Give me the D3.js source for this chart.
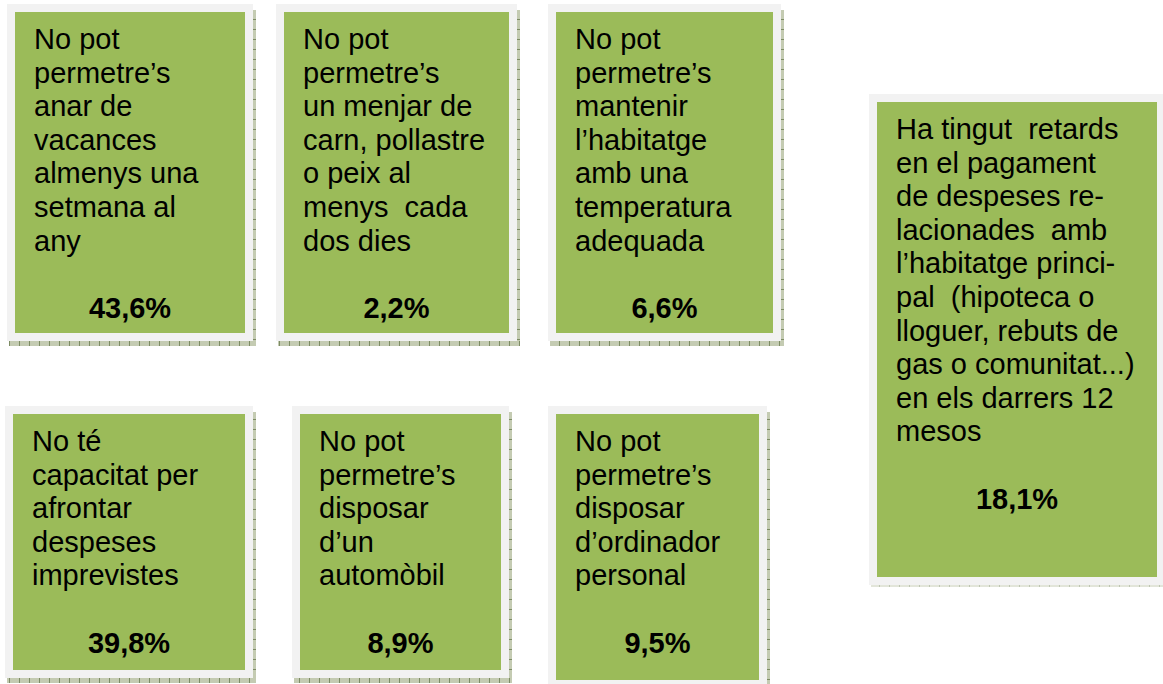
<!DOCTYPE html>
<html>
<head>
<meta charset="utf-8">
<script src="https://cdn.jsdelivr.net/npm/d3@7"></script>
<style>
  body { margin: 0; background: #fff; }
  svg { display: block; }
  text { font-family: "Liberation Sans", Arial, sans-serif; font-size: 29px; fill: #000; white-space: pre; }
</style>
</head>
<body>
<div id="chart"></div>
<script>
// indicator texts, line breaks as in the original
const labels = [
  ["No pot", "permetre\u2019s", "anar de", "vacances", "almenys una", "setmana al", "any"],
  ["No pot", "permetre\u2019s", "un menjar de", "carn, pollastre", "o peix al", "menys  cada", "dos dies"],
  ["No pot", "permetre\u2019s", "mantenir", "l\u2019habitatge", "amb una", "temperatura", "adequada"],
  ["No t\u00e9", "capacitat per", "afrontar", "despeses", "imprevistes"],
  ["No pot", "permetre\u2019s", "disposar", "d\u2019un", "autom\u00f2bil"],
  ["No pot", "permetre\u2019s", "disposar", "d\u2019ordinador", "personal"],
  ["Ha tingut  retards", "en el pagament", "de despeses re-", "lacionades  amb", "l\u2019habitatge princi-", "pal  (hipoteca o", "lloguer, rebuts de", "gas o comunitat...)", "en els darrers 12", "mesos"]
];
const values = [43.6, 2.2, 6.6, 39.8, 8.9, 9.5, 18.1];

// box placement (green area) on the page
const layout = [
  {x: 15,  y: 12,  w: 230, h: 321},
  {x: 284, y: 12,  w: 225, h: 321},
  {x: 556, y: 12,  w: 217, h: 321},
  {x: 13,  y: 414, w: 232, h: 256},
  {x: 300, y: 414, w: 201, h: 256},
  {x: 556, y: 414, w: 203, h: 266},
  {x: 877, y: 102, w: 280, h: 475}
];

const width = 1163, height = 684;
const pad = 8, lineH = 33.6;
const fmt = v => d3.format(".1f")(v).replace(".", ",") + "%";

const data = values.map((v, i) => ({value: v, lines: labels[i], box: layout[i], i}));

const svg = d3.select("#chart").append("svg")
    .attr("width", width)
    .attr("height", height);

// ruler-like texture used for the drop shadow
const defs = svg.append("defs");
const pv = defs.append("pattern").attr("id", "shadowV")
    .attr("patternUnits", "userSpaceOnUse").attr("width", 4).attr("height", 10);
pv.append("rect").attr("width", 4).attr("height", 10).attr("fill", "#c4cbb2");
pv.append("rect").attr("y", 9).attr("width", 4).attr("height", 1).attr("fill", "#7d8c64");
const ph = defs.append("pattern").attr("id", "shadowH")
    .attr("patternUnits", "userSpaceOnUse").attr("width", 10).attr("height", 6);
ph.append("rect").attr("width", 10).attr("height", 6).attr("fill", "#c4cbb2");
ph.append("rect").attr("x", 9).attr("width", 1).attr("height", 6).attr("fill", "#7d8c64");

const g = svg.selectAll("g.box")
  .data(data)
  .join("g")
    .attr("class", "box");

// shadow
g.append("rect")
    .attr("x", d => d.box.x + d.box.w + pad)
    .attr("y", d => d.box.y - pad + 6)
    .attr("width", 3)
    .attr("height", d => d.box.h + 2 * pad - 1)
    .attr("fill", "url(#shadowV)")
    .attr("opacity", d => d.i === 6 ? 0.5 : 1);
g.append("rect")
    .attr("x", d => d.box.x - pad + 2)
    .attr("y", d => d.box.y + d.box.h + pad)
    .attr("width", d => d.box.w + 2 * pad + 1)
    .attr("height", d => d.i === 6 ? 2 : 5)
    .attr("fill", "url(#shadowH)")
    .attr("opacity", d => d.i === 6 ? 0.5 : 1);

// light frame
g.append("rect")
    .attr("x", d => d.box.x - pad)
    .attr("y", d => d.box.y - pad)
    .attr("width", d => d.box.w + 2 * pad)
    .attr("height", d => d.box.h + 2 * pad)
    .attr("fill", "#f2f2f2");

// green panel
g.append("rect")
    .attr("x", d => d.box.x)
    .attr("y", d => d.box.y)
    .attr("width", d => d.box.w)
    .attr("height", d => d.box.h)
    .attr("fill", "#9bbb59");

// label lines
g.each(function(d) {
  const t = d3.select(this).append("text")
      .attr("x", d.box.x + 19)
      .attr("y", d.box.y + 37)
      .attr("xml:space", "preserve");
  t.selectAll("tspan")
    .data(d.lines)
    .join("tspan")
      .attr("x", d.box.x + 19)
      .attr("y", (l, j) => d.box.y + 37 + j * lineH)
      .text(l => l);
});

// percentage
g.append("text")
    .attr("x", d => d.box.x + d.box.w / 2)
    .attr("y", d => d.box.y + 37 + (d.lines.length + 1) * lineH)
    .attr("text-anchor", "middle")
    .attr("font-weight", "bold")
    .text(d => fmt(d.value));
</script>
</body>
</html>
